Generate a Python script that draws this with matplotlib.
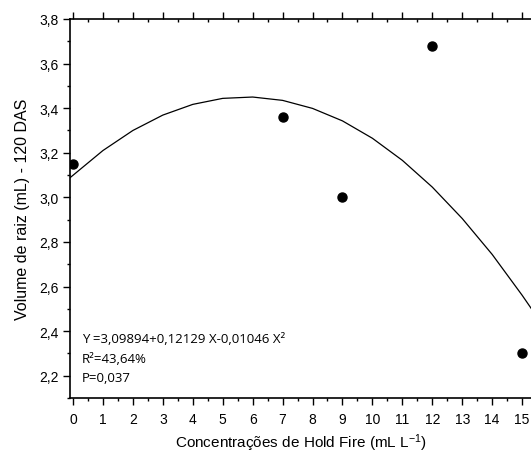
import numpy as np
import matplotlib.pyplot as plt
from matplotlib.ticker import MultipleLocator, FuncFormatter

# observed means
conc = [0, 7, 9, 12, 15]
volume = [3.15, 3.36, 3.00, 3.68, 2.30]

# fitted curve
curve_x = [-0.1, 0, 1, 2, 3, 4, 5, 6, 7, 8, 9, 10, 11, 12, 13, 14, 15, 15.4]
curve_y = [3.088, 3.099, 3.210, 3.300, 3.369, 3.417, 3.444, 3.450, 3.435,
           3.399, 3.343, 3.265, 3.166, 3.046, 2.905, 2.744, 2.561, 2.483]

eq_text = "Y =3,09894+0,12129 X-0,01046 X²"
r2_text = "R²=43,64%"
p_text = "P=0,037"

plt.rcParams['font.family'] = ['Liberation Sans', 'DejaVu Sans']
plt.rcParams['mathtext.fontset'] = 'custom'
plt.rcParams['mathtext.rm'] = 'Liberation Sans'
plt.rcParams['mathtext.default'] = 'regular'

fig = plt.figure(figsize=(5.31, 4.56), dpi=100)
ax = fig.add_axes([70 / 531, 57 / 456, 462 / 531, 379 / 456])

ax.plot(curve_x, curve_y, color='black', linewidth=0.9)
ax.plot(conc, volume, 'o', color='black', markersize=6.5)

ax.set_xlim(-0.1, 15.33)
ax.set_ylim(2.1, 3.8)

ax.xaxis.set_major_locator(MultipleLocator(1))
ax.xaxis.set_minor_locator(MultipleLocator(0.5))
ax.yaxis.set_major_locator(MultipleLocator(0.2))
ax.yaxis.set_minor_locator(MultipleLocator(0.1))
ax.yaxis.set_major_formatter(FuncFormatter(lambda v, p: f"{v:.1f}".replace('.', ',')))

ax.tick_params(which='both', top=True, right=True, labelsize=10, width=1)
ax.tick_params(which='both', direction='out')
ax.tick_params(which='major', length=5)
ax.tick_params(which='minor', length=2.5)
for t in ax.xaxis.get_ticklines(minor=False)[1::2] + ax.xaxis.get_ticklines(minor=True)[1::2]:
    t.set_marker(3)  # top ticks inward
for t in ax.yaxis.get_ticklines(minor=False)[1::2] + ax.yaxis.get_ticklines(minor=True)[1::2]:
    t.set_marker(1)  # right ticks inward
ax.tick_params(axis='x', pad=5)
ax.tick_params(axis='y', pad=3)

for s in ax.spines.values():
    s.set_linewidth(1.2)

ax.set_xlabel("Concentrações de Hold Fire (mL L$^{-1}$)", fontsize=11, labelpad=4)
ax.set_ylabel("Volume de raiz (mL) - 120 DAS", fontsize=11.5, labelpad=7)

ax.text(0.3, 2.368, eq_text, fontsize=9.5, family='Open Sans', va='center')
ax.text(0.3, 2.276, r2_text, fontsize=9.5, family='Open Sans', va='center')
ax.text(0.3, 2.19, p_text, fontsize=9.5, family='Open Sans', va='center')

fig.savefig("out.png", dpi=100)
